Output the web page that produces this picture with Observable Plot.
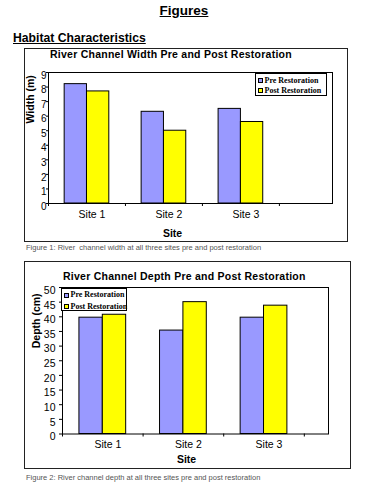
<!DOCTYPE html>
<html>
<head>
<meta charset="utf-8">
<script src="https://cdn.jsdelivr.net/npm/d3@7"></script>
<script src="https://cdn.jsdelivr.net/npm/@observablehq/plot@0.6"></script>
<style>
  html, body { margin: 0; padding: 0; background: #fff; }
  body { position: relative; width: 368px; height: 490px; overflow: hidden;
         font-family: Arial, "Liberation Sans", sans-serif; color: #000; }
  .abs { position: absolute; white-space: nowrap; line-height: 1; }
  .box { position: absolute; box-sizing: border-box; border: 1.5px solid #222; pointer-events: none; }
  .legend { position: absolute; box-sizing: border-box; border: 1px solid #000; background: #fff;
            font-family: "Liberation Serif", "Times New Roman", serif; font-weight: bold; font-size: 8px; }
  .row { position: absolute; left: 0; height: 10px; display: flex; align-items: center; line-height: 10px; white-space: nowrap; }
  .sw { box-sizing: border-box; width: 5px; height: 5px; border: 1px solid #000; margin-right: 2px; flex: none; }
</style>
</head>
<body>
<script>
// ---- data ----
const sites = ["Site 1", "Site 2", "Site 3"];
const seriesNames = ["Pre Restoration", "Post Restoration"];
const seriesColors = ["#9999ff", "#ffff00"];
const widthPre = [8.2, 6.3, 6.5];
const widthPost = [7.7, 5.0, 5.6];
const depthPre = [39.7, 35.3, 39.7];
const depthPost = [40.7, 45.0, 43.8];
const widthTicks = [0, 1, 2, 3, 4, 5, 6, 7, 8, 9];
const depthTicks = [0, 5, 10, 15, 20, 25, 30, 35, 40, 45, 50];
const boundaryTicks = [0, 1, 2, 3];

const root = document.body;

function addText(txt, style) {
  const d = document.createElement("div");
  d.className = "abs";
  d.textContent = txt;
  Object.assign(d.style, style);
  root.appendChild(d);
  return d;
}

function makeChart(cfg) {
  const rows = sites.flatMap((s, i) => [
    {site: s, i, k: 0, value: cfg.pre[i]},
    {site: s, i, k: 1, value: cfg.post[i]}
  ]);
  const barStart = 0.21, barMid = 0.5, barEnd = 0.79;
  const plot = Plot.plot({
    width: cfg.width,
    height: cfg.height,
    marginLeft: cfg.m[0], marginTop: cfg.m[1], marginRight: cfg.m[2], marginBottom: cfg.m[3],
    style: {fontFamily: "Arial, 'Liberation Sans', sans-serif", background: "#fff", overflow: "visible"},
    x: {domain: [0, cfg.xMax], axis: null, label: null},
    y: {domain: cfg.yDomain, axis: null, label: null},
    marks: [
      Plot.rectY(rows, {
        x1: d => d.i + (d.k === 0 ? barStart : barMid),
        x2: d => d.i + (d.k === 0 ? barMid : barEnd),
        y1: 0, y2: "value",
        fill: d => seriesColors[d.k],
        stroke: "#000", strokeWidth: 1
      }),
      Plot.frame({stroke: "#000", strokeWidth: 1}),
      Plot.axisY({ticks: cfg.yTicks, tickSize: cfg.yTickSize, tickFormat: () => "", label: null, stroke: "#000"}),
      Plot.axisX({ticks: boundaryTicks, tickSize: 3, tickFormat: () => "", label: null, stroke: "#000"}),
      Plot.text(cfg.yTicks, {y: d => d, text: d => String(d), frameAnchor: "left", textAnchor: "end",
        dx: cfg.yLabelDx, dy: 3, fontSize: cfg.tickFont, fill: "#000"}),
      Plot.text(sites, {x: (d, i) => i + 0.5, text: d => d, frameAnchor: "bottom", lineAnchor: "top",
        dy: 7, dx: 5, fontSize: 10.5, fill: "#000"}),
      Plot.text([cfg.yLabel], {text: d => d, frameAnchor: "left", rotate: -90, dx: cfg.yTitle[0], dy: cfg.yTitle[1],
        fontWeight: "bold", fontSize: 10.5, fill: "#000"}),
      Plot.text(["Site"], {text: d => d, frameAnchor: "bottom", lineAnchor: "middle", dx: cfg.xTitle[0], dy: cfg.xTitle[1],
        fontWeight: "bold", fontSize: 10.5, fill: "#000"})
    ]
  });
  plot.style.position = "absolute";
  plot.style.left = cfg.left + "px";
  plot.style.top = cfg.top + "px";
  root.appendChild(plot);
  const box = document.createElement("div");
  box.className = "box";
  Object.assign(box.style, {left: cfg.left + "px", top: cfg.top + "px", width: cfg.width + "px", height: cfg.height + "px"});
  root.appendChild(box);
  // title
  addText(cfg.title, {left: cfg.titlePos[0] + "px", top: cfg.titlePos[1] + "px", fontWeight: "bold",
    fontSize: "10.5px", letterSpacing: "0.25px"});
  // legend
  const lg = document.createElement("div");
  lg.className = "legend";
  Object.assign(lg.style, {left: cfg.legend[0] + "px", top: cfg.legend[1] + "px", width: cfg.legend[2] + "px", height: cfg.legend[3] + "px"});
  seriesNames.forEach((n, k) => {
    const r = document.createElement("div");
    r.className = "row";
    r.style.top = cfg.legendRows[k] + "px";
    r.style.left = cfg.legendPad + "px";
    const sw = document.createElement("div");
    sw.className = "sw";
    sw.style.background = seriesColors[k];
    const t = document.createElement("span");
    t.textContent = n;
    r.appendChild(sw); r.appendChild(t);
    lg.appendChild(r);
  });
  root.appendChild(lg);
}

// page headings
addText("Figures", {left: "0px", width: "368px", textAlign: "center", top: "3.6px", fontWeight: "bold",
  fontSize: "13.5px", textDecoration: "underline"});
addText("Habitat Characteristics", {left: "13px", top: "32px", fontWeight: "bold", fontSize: "12.2px",
  textDecoration: "underline"});

makeChart({
  left: 24, top: 48, width: 324, height: 194, m: [24, 24, 16, 39],
  xMax: 3.69, yDomain: [0, 9], yTicks: widthTicks, yTickSize: 2, yLabelDx: -2, tickFont: 10,
  pre: widthPre, post: widthPost, yLabel: "Width (m)", yTitle: [-17.5, -14.5], xTitle: [-18, 30.5],
  title: "River Channel Width Pre and Post Restoration", titlePos: [50, 49.4],
  legend: [255, 73, 72, 22.5], legendRows: [1.5, 11.8], legendPad: 1.5
});

makeChart({
  left: 24, top: 261, width: 327, height: 208, m: [38, 26, 23, 35.5],
  xMax: 3.3, yDomain: [0, 50], yTicks: depthTicks, yTickSize: 3, yLabelDx: -7, tickFont: 10.5,
  pre: depthPre, post: depthPost, yLabel: "Depth (cm)", yTitle: [-26, -12.5], xTitle: [-9, 26],
  title: "River Channel Depth Pre and Post Restoration", titlePos: [63, 271],
  legend: [61, 288, 66, 23], legendRows: [1.3, 12.7], legendPad: 1.5
});

addText("Figure 1: River  channel width at all three sites pre and post restoration",
  {left: "26px", top: "244.3px", fontSize: "7.5px", color: "#555", whiteSpace: "pre"});
addText("Figure 2: River channel depth at all three sites pre and post restoration",
  {left: "26px", top: "473.6px", fontSize: "7.5px", color: "#555"});
</script>
</body>
</html>
